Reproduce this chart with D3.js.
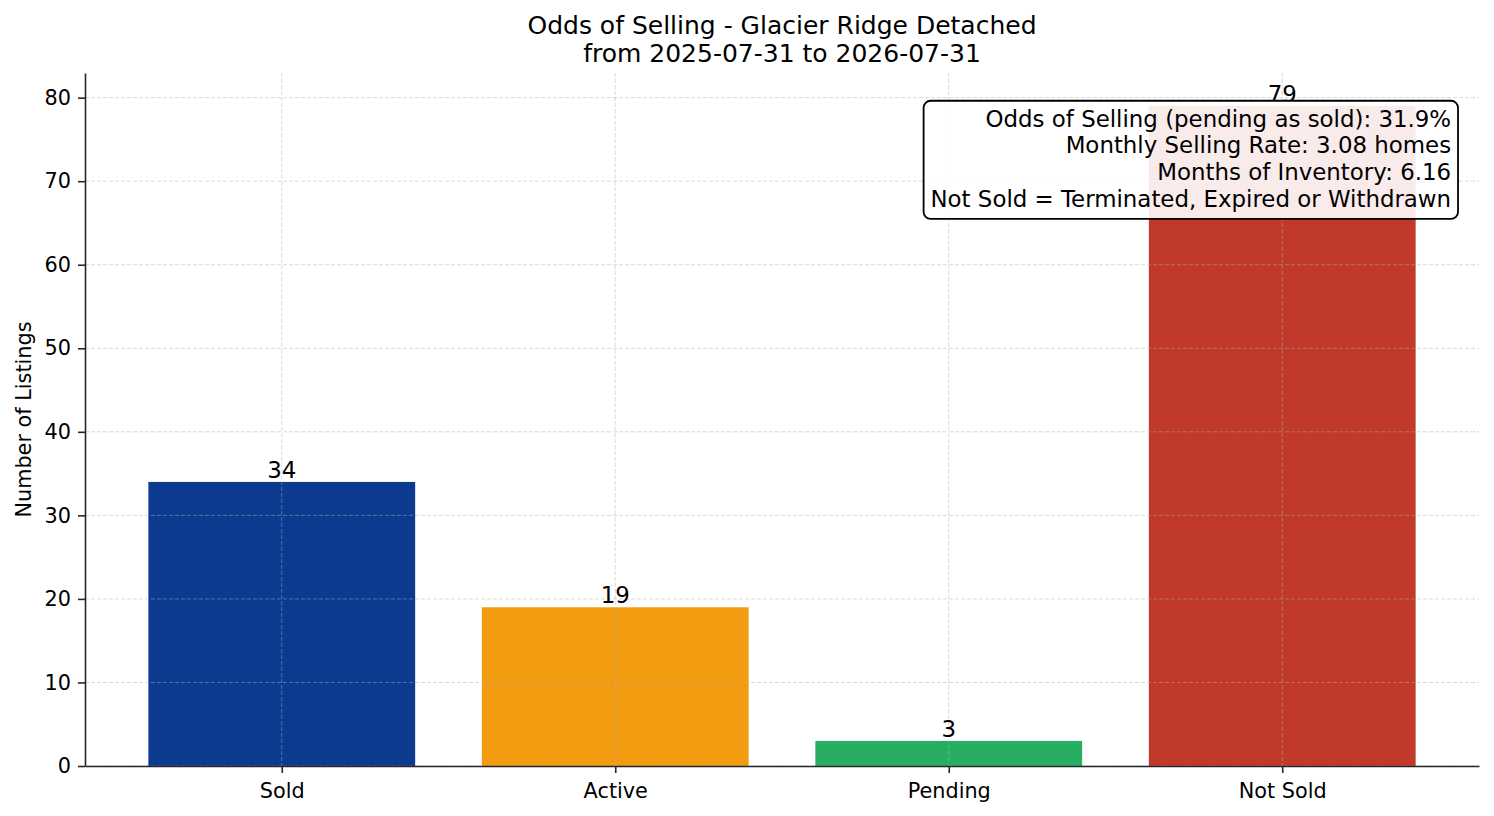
<!DOCTYPE html>
<html>
<head>
<meta charset="utf-8">
<script src="https://cdn.jsdelivr.net/npm/d3@7"></script>
<style>
  body { margin: 0; background: #fff; }
  svg text { font-family: "DejaVu Sans", sans-serif; fill: #000; }
</style>
</head>
<body>
<div id="chart"></div>
<script>
// chart data
var categories = ["Sold", "Active", "Pending", "Not Sold"];
var counts = [34, 19, 3, 79];
var barColors = ["#0b3a8f", "#f39c12", "#27ae60", "#c0392b"];
var yTicks = [0, 10, 20, 30, 40, 50, 60, 70, 80];
var titleLines = ["Odds of Selling - Glacier Ridge Detached", "from 2025-07-31 to 2026-07-31"];
var infoLines = [
    "Odds of Selling (pending as sold): 31.9%",
    "Monthly Selling Rate: 3.08 homes",
    "Months of Inventory: 6.16",
    "Not Sold = Terminated, Expired or Withdrawn"
];

var totalW = 1494, totalH = 816;
var margin = { top: 73, right: 15, bottom: 50, left: 85 },
    width = totalW - margin.left - margin.right,
    height = totalH - margin.top - margin.bottom;

var svg = d3.select("#chart").append("svg")
    .attr("width", totalW)
    .attr("height", totalH);

var g = svg.append("g")
    .attr("transform", "translate(" + margin.left + "," + margin.top + ")");

// matplotlib-like bar positions: index -0.59 .. 3.59
var x = d3.scaleLinear()
    .domain([-0.59, categories.length - 1 + 0.59])
    .range([0, width]);
var barW = x(0.8) - x(0);

var y = d3.scaleLinear()
    .domain([0, d3.max(counts) * 1.05])
    .range([height, 0]);

// bars
g.selectAll("rect.bar")
    .data(counts)
    .enter()
    .append("rect")
    .attr("class", "bar")
    .attr("x", function(d, i) { return x(i) - barW / 2; })
    .attr("y", function(d) { return y(d); })
    .attr("width", barW)
    .attr("height", function(d) { return height - y(d); })
    .attr("fill", function(d, i) { return barColors[i]; });

// grid on top of bars
var grid = g.append("g").attr("class", "grid");
grid.selectAll("line.h")
    .data(yTicks)
    .enter()
    .append("line")
    .attr("x1", 0).attr("x2", width)
    .attr("y1", function(d) { return y(d); })
    .attr("y2", function(d) { return y(d); });
grid.selectAll("line.v")
    .data(categories)
    .enter()
    .append("line")
    .attr("x1", function(d, i) { return x(i); })
    .attr("x2", function(d, i) { return x(i); })
    .attr("y1", 0).attr("y2", height);
grid.selectAll("line")
    .attr("stroke", "#b0b0b0")
    .attr("stroke-opacity", 0.6)
    .attr("stroke-width", 0.8)
    .attr("stroke-dasharray", "4,2");

// value labels
g.selectAll("text.val")
    .data(counts)
    .enter()
    .append("text")
    .attr("class", "val")
    .attr("x", function(d, i) { return x(i); })
    .attr("y", function(d) { return y(d) - 4; })
    .attr("text-anchor", "middle")
    .style("font-size", "22.9px")
    .text(function(d) { return d; });

// axes
var xAxis = d3.axisBottom(x)
    .tickValues(d3.range(categories.length))
    .tickFormat(function(d) { return categories[d]; })
    .tickSizeInner(7)
    .tickSizeOuter(0)
    .tickPadding(9);

var yAxis = d3.axisLeft(y)
    .tickValues(yTicks)
    .tickSizeInner(7)
    .tickSizeOuter(0)
    .tickPadding(7);

var gx = g.append("g")
    .attr("class", "x axis")
    .attr("transform", "translate(0," + height + ")")
    .call(xAxis);
gx.selectAll("text").style("font-size", "20.8px").attr("dy", "0.76em");

var gy = g.append("g")
    .attr("class", "y axis")
    .call(yAxis);
gy.selectAll("text").style("font-size", "20.8px");

svg.selectAll(".axis path, .axis line")
    .attr("stroke", "#262626")
    .attr("stroke-width", 1.6);
svg.selectAll(".axis text").style("fill", "#000");

// y label
g.append("text")
    .attr("transform", "rotate(-90)")
    .attr("x", -height / 2)
    .attr("y", -margin.left + 31)
    .attr("text-anchor", "middle")
    .style("font-size", "20.8px")
    .text("Number of Listings");

// title
svg.append("g").selectAll("text")
    .data(titleLines)
    .enter()
    .append("text")
    .attr("x", margin.left + width / 2)
    .attr("y", function(d, i) { return 34 + i * 28; })
    .attr("text-anchor", "middle")
    .style("font-size", "25px")
    .text(function(d) { return d; });

// info box, top right of the axes
var fs = 22.9, lh = 26.8, pad = 6.9;
var info = g.append("g");
var infoRight = width * 0.98, infoTop = height * 0.05;
var infoText = info.append("text")
    .attr("text-anchor", "end")
    .style("font-size", fs + "px");
infoText.selectAll("tspan")
    .data(infoLines)
    .enter()
    .append("tspan")
    .attr("x", infoRight)
    .attr("y", function(d, i) { return infoTop + 19 + i * lh; })
    .text(function(d) { return d; });
var bb = infoText.node().getBBox();
info.insert("rect", "text")
    .attr("x", bb.x - pad)
    .attr("y", infoTop - pad)
    .attr("width", bb.width + pad * 2)
    .attr("height", (bb.y + bb.height) - infoTop + pad * 2)
    .attr("rx", 7).attr("ry", 7)
    .attr("fill", "#fff")
    .attr("fill-opacity", 0.9)
    .attr("stroke", "#000")
    .attr("stroke-width", 1.8);
</script>
</body>
</html>
